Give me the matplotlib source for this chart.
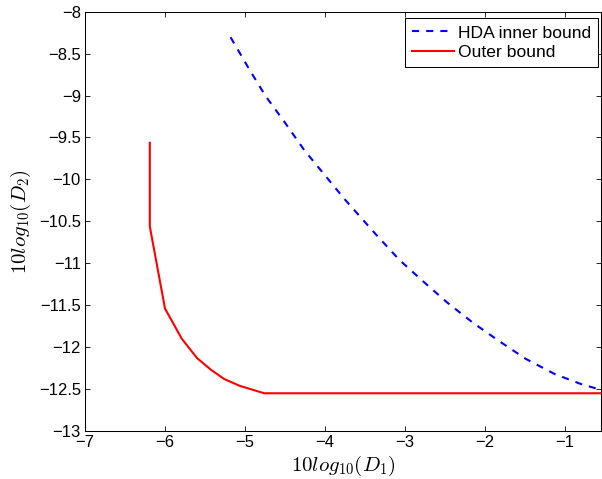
import numpy as np
import matplotlib.pyplot as plt

plt.rcParams['font.family'] = ['Liberation Sans', 'DejaVu Sans']
plt.rcParams['mathtext.fontset'] = 'cm'

# HDA inner bound (dashed blue)
hda_x = [-5.18, -4.945, -4.74, -4.51, -4.26, -4.01, -3.76, -3.63, -3.36, -3.07,
         -2.78, -2.47, -2.15, -1.82, -1.49, -1.13, -0.80, -0.55]
hda_y = [-8.305, -8.69, -9.01, -9.31, -9.65, -9.94, -10.23, -10.37, -10.66, -10.96,
         -11.21, -11.47, -11.71, -11.93, -12.14, -12.32, -12.44, -12.51]

# outer bound (solid red)
outer_x = [-6.19, -6.19, -6.00, -5.79, -5.60, -5.425, -5.26, -5.07, -4.76, -0.55]
outer_y = [-9.563, -10.56, -11.54, -11.90, -12.13, -12.27, -12.38, -12.46, -12.55, -12.55]

xticks = [-7, -6, -5, -4, -3, -2, -1]
yticks = np.arange(-13, -7.9, 0.5)

def lab(v):
    return '\u2212' + ('%g' % abs(v))

fig = plt.figure(figsize=(6.02, 4.79), dpi=100)
ax = fig.add_axes([85/602, 1 - 431/479, 516/602, 419.3/479])

ax.plot(hda_x, hda_y, color='blue', ls='--', lw=1.5, dashes=(3.4, 3.4), label='HDA inner bound')
ax.plot(outer_x, outer_y, color='red', ls='-', lw=1.5, label='Outer bound')

ax.set_xlim(-7, -0.55)
ax.set_ylim(-13, -8)
ax.set_xticks(xticks)
ax.set_yticks(yticks)
ax.set_xticklabels([lab(v) for v in xticks])
ax.set_yticklabels([lab(v) for v in yticks])
ax.tick_params(direction='in', top=True, right=True, labelsize=12, length=3.6, width=0.6, pad=3)
for s in ax.spines.values():
    s.set_linewidth(0.75)

ax.set_xlabel(r'$10log_{10}(D_1)$', fontsize=15, labelpad=3)
ax.set_ylabel(r'$10log_{10}(D_2)$', fontsize=15, labelpad=4)

leg = ax.legend(loc='upper right', bbox_to_anchor=(0.9948, 0.9843), fontsize=12.6,
                fancybox=False, framealpha=1, borderaxespad=0, handlelength=2.4,
                borderpad=0.4, labelspacing=0.22, handletextpad=0.25)
leg.get_frame().set_edgecolor('black')
leg.get_frame().set_linewidth(0.75)

fig.savefig('out.png', dpi=100)
